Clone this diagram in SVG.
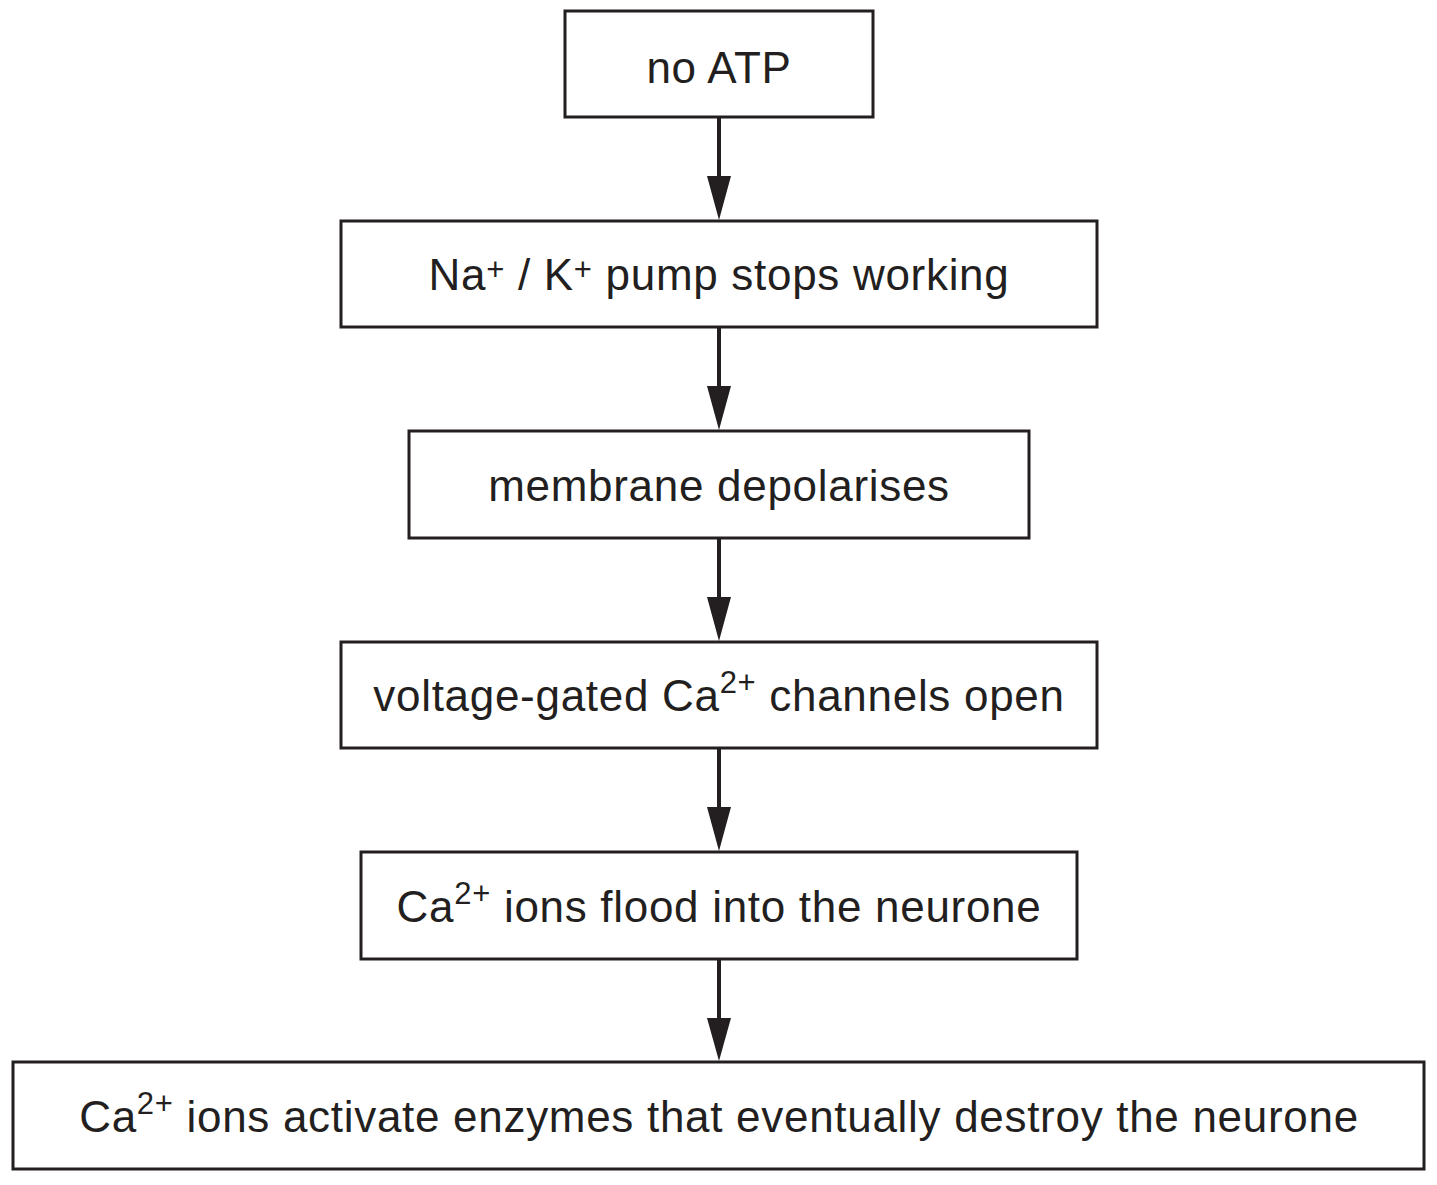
<svg xmlns="http://www.w3.org/2000/svg" width="1437" height="1185" viewBox="0 0 1437 1185">
<style>
.box{fill:#fff;stroke:#231f20;stroke-width:3}
.t{font-family:"Liberation Sans",Arial,sans-serif;font-size:44px;letter-spacing:0.7px;fill:#231f20;text-anchor:middle}
.sup{font-size:31px}
.shaft{stroke:#231f20;stroke-width:4}
.head{fill:#231f20}
</style>
<rect width="1437" height="1185" fill="#fff"/>
<g id="connectors">
<line class="shaft" x1="719" y1="117" x2="719" y2="180"/><polygon class="head" points="707,176 731,176 719,220"/>
<line class="shaft" x1="719" y1="327" x2="719" y2="390"/><polygon class="head" points="707,386 731,386 719,430"/>
<line class="shaft" x1="719" y1="538" x2="719" y2="601"/><polygon class="head" points="707,597 731,597 719,641"/>
<line class="shaft" x1="719" y1="748" x2="719" y2="811"/><polygon class="head" points="707,807 731,807 719,851"/>
<line class="shaft" x1="719" y1="959" x2="719" y2="1022"/><polygon class="head" points="707,1018 731,1018 719,1061"/>
</g>
<g id="n1"><rect class="box" x="565" y="11" width="308" height="106"/><text class="t" x="719" y="83">no ATP</text></g>
<g id="n2"><rect class="box" x="341" y="221" width="756" height="106"/><text class="t" x="719" y="290">Na<tspan class="sup" dy="-10">+</tspan><tspan dy="10"> / K</tspan><tspan class="sup" dy="-10">+</tspan><tspan dy="10"> pump stops working</tspan></text></g>
<g id="n3"><rect class="box" x="409" y="431" width="620" height="107"/><text class="t" x="719" y="501">membrane depolarises</text></g>
<g id="n4"><rect class="box" x="341" y="642" width="756" height="106"/><text class="t" x="719" y="711">voltage-gated Ca<tspan class="sup" dy="-18">2+</tspan><tspan dy="18"> channels open</tspan></text></g>
<g id="n5"><rect class="box" x="361" y="852" width="716" height="107"/><text class="t" x="719" y="922">Ca<tspan class="sup" dy="-18">2+</tspan><tspan dy="18"> ions flood into the neurone</tspan></text></g>
<g id="n6"><rect class="box" x="13" y="1062" width="1411" height="107"/><text class="t" x="719" y="1132">Ca<tspan class="sup" dy="-18">2+</tspan><tspan dy="18"> ions activate enzymes that eventually destroy the neurone</tspan></text></g>
</svg>
